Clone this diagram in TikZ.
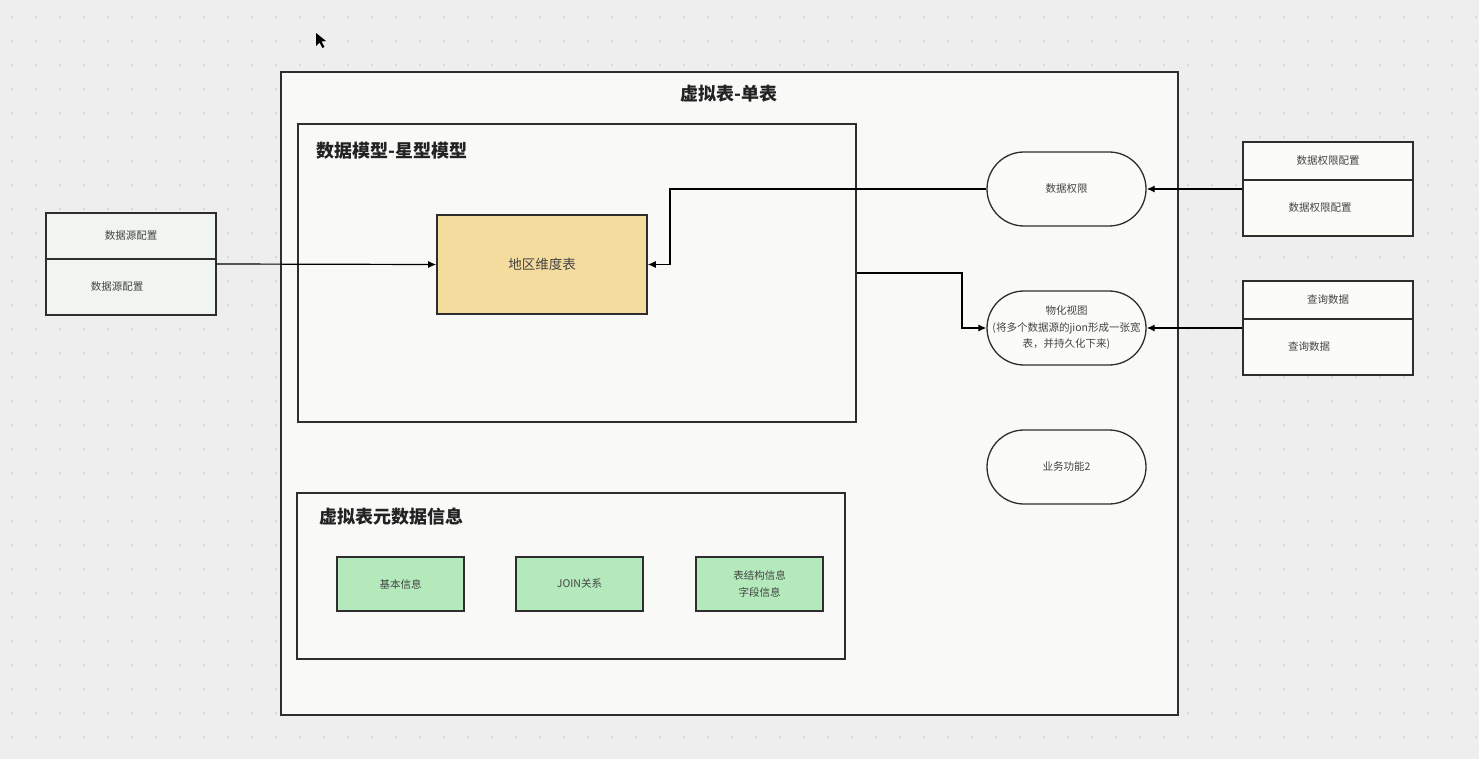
\documentclass[tikz,border=0pt]{standalone}
\usepackage{fontspec}
\setmainfont{Noto Sans CJK SC}
\usetikzlibrary{arrows.meta,calc}
\definecolor{bg}{HTML}{EDEEED}
\definecolor{dotc}{HTML}{C4C6C4}
\definecolor{framefill}{HTML}{F9FAF7}
\definecolor{edge}{HTML}{2E2E2E}
\definecolor{txt}{HTML}{444444}
\definecolor{ttl}{HTML}{222222}
\definecolor{yel}{HTML}{F4DC9F}
\definecolor{grn}{HTML}{B3E9BB}
\definecolor{srcfill}{HTML}{F1F5F1}
\definecolor{rfill}{HTML}{FBFBF7}
\tikzset{
  small/.style={font=\fontsize{10.5}{16.5}\selectfont, text=txt, align=center},
  title/.style={font=\fontsize{18}{22}\selectfont\bfseries, text=ttl, anchor=west},
  cfgbox/.style={draw=edge, line width=1.2pt, inner sep=0pt},
  stadium/.style={draw=edge, line width=1.3pt, fill=rfill, rounded corners=37pt, minimum width=159pt, minimum height=74pt, inner sep=0pt, small},
  greenbox/.style={draw=edge, line width=1.5pt, fill=grn, minimum width=127pt, minimum height=54pt, inner sep=0pt, small},
  arr/.style={draw=black, line width=1.2pt, -{Latex[length=8pt,width=7pt]}},
}
\begin{document}
\begin{tikzpicture}[x=1pt,y=-1pt]
\useasboundingbox (0,0) rectangle (1479,759);
\fill[bg] (0,0) rectangle (1479,759);
\foreach \i in {0,...,61} \foreach \j in {0,...,31} \fill[dotc] (12+24*\i,17+24*\j) circle (0.9);
% cursor
\fill[black] (316,33) -- (316,46) -- (319.5,42.5) -- (322.5,48) -- (324.5,47) -- (321.5,41.5) -- (326,41) -- cycle;
% main frame
\node[draw=edge, line width=1.2pt, fill=framefill, minimum width=897pt, minimum height=643pt, inner sep=0pt] (frame) at (729.5,393.5) {};
\node[font=\fontsize{18}{22}\selectfont\bfseries, text=ttl] (ftitle) at (729,94) {虚拟表-单表};
% star model box
\node[draw=edge, line width=1.6pt, minimum width=558pt, minimum height=298pt, inner sep=0pt] (model) at (577,273) {};
\node[title] (mtitle) at (313,151) {数据模型-星型模型};
\node[draw=edge, line width=1.6pt, fill=yel, minimum width=210pt, minimum height=99pt, inner sep=0pt, font=\fontsize{13.5}{16}\selectfont, text=txt] (dim) at (542,264.5) {地区维度表};
% metadata box
\node[draw=edge, line width=1.6pt, minimum width=548pt, minimum height=166pt, inner sep=0pt] (meta) at (571,576) {};
\node[title] (metatitle) at (316,517) {虚拟表元数据信息};
\node[greenbox] (basic) at (400.5,584) {基本信息};
\node[greenbox] (join) at (579.5,584) {JOIN关系};
\node[greenbox] (struct) at (759.5,584) {表结构信息\\字段信息};
% left config box
\node[cfgbox, fill=srcfill, minimum width=170pt, minimum height=102pt] (src) at (131,264) {};
\draw[edge, line width=1.2pt] (46,259) -- (216,259);
\node[small] (srchead) at (131,236) {数据源配置};
\node[small] (srcbody) at (117,287) {数据源配置};
% stadiums
\node[stadium] (perm) at (1066.5,189) {数据权限};
\node[stadium] (mv) at (1066.5,328) {物化视图\\(将多个数据源的jion形成一张宽\\表，并持久化下来)};
\node[stadium] (biz) at (1066.5,467) {业务功能2};
% right config boxes
\node[cfgbox, fill=rfill, minimum width=170pt, minimum height=94pt] (permcfg) at (1328,189) {};
\draw[edge, line width=1.2pt] (1243,180) -- (1413,180);
\node[small] (permhead) at (1328,161) {数据权限配置};
\node[small] (permbody) at (1320,208) {数据权限配置};
\node[cfgbox, fill=rfill, minimum width=170pt, minimum height=94pt] (qcfg) at (1328,328) {};
\draw[edge, line width=1.2pt] (1243,319) -- (1413,319);
\node[small] (qhead) at (1328,300) {查询数据};
\node[small] (qbody) at (1309,347) {查询数据};
% connectors
\draw[arr] (src.east) -- (dim.west);
\coordinate (k1) at (670,189);
\draw[arr] (perm.west) -- (k1) |- (dim.east);
\coordinate (k2) at (962,300);
\draw[arr] (model.east) -- (model.east -| k2) |- (mv.west);
\draw[arr] (permcfg.west) -- (perm.east);
\draw[arr] (qcfg.west) -- (mv.east);
\end{tikzpicture}
\end{document}
